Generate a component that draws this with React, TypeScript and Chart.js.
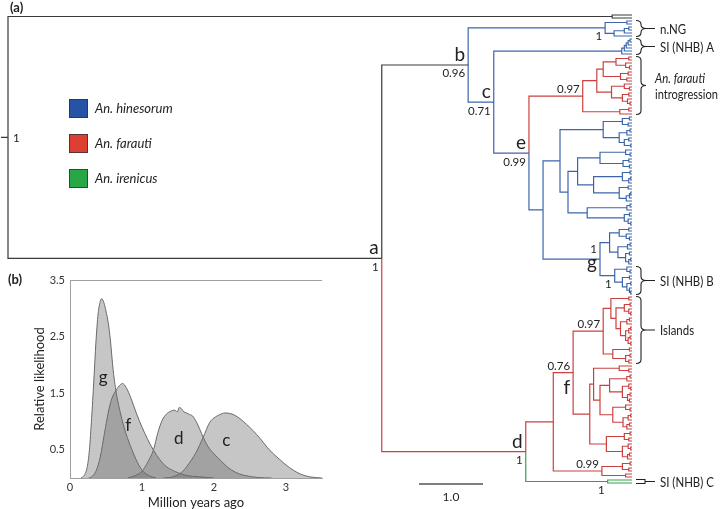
import React, { useEffect, useRef } from "react";
import { Chart, registerables } from "chart.js";
Chart.register(...registerables);

const FONT = 'Lato, "Open Sans", "DejaVu Sans", sans-serif';

// ---------------- Tree (node ages in Myr; "*" = tip; {name,colour}) ----------------
const OUTGROUP = "(*,*)0.31";
const NNG = "((*,*)0.08,(((*,*)0.05,*)0.12,*)0.28)0.42{nng,b}";
const SIA = "(((((*,*)0.03,*)0.06,*)0.09,*)0.12,*)0.16{sia}";
const R1A = "(((*,*)0.05,(*,(*,*)0.04)0.1)0.25,((*,*)0.06,(*,*)0.08)0.18)0.45";
const R1B = "((*,(*,*)0.04)0.12,((*,*)0.05,(*,(*,*)0.03)0.07)0.15)0.32";
const R2 = "((*,*)0.05,*)0.19";
const ET1 = "(((*,*)0.04,(*,*)0.06)0.15,(((*,*)0.03,*)0.08,((*,*)0.05,(*,*)0.02)0.12)0.2)0.45";
const A1 = "((*,(*,*)0.03)0.1,((*,*)0.05,(*,*)0.04)0.14)0.5";
const A2 = "(((*,*)0.03,((*,*)0.02,*)0.05)0.15,((*,*)0.06,(((*,*)0.02,*)0.04,*)0.09)0.2)0.6";
const ET2B = "(((*,*)0.03,*)0.08,((*,*)0.04,(*,(*,*)0.02)0.06)0.12)0.7";
const G1 = "(((*,*)0.05,(*,(*,*)0.04)0.09)0.2,(((*,*)0.03,*)0.07,((*,*)0.04,((*,*)0.02,*)0.05)0.1)0.22)0.35";
const SIB = "((*,(*,*)0.03)0.08,((*,*)0.04,((*,*)0.02,(*,(*,*)0.02)0.04)0.08)0.15)0.27{sib}";
const I1B = "(((*,*)0.03,(*,(*,*)0.02)0.05)0.12,(((*,*)0.04,*)0.08,(((*,*)0.02,*)0.05,((*,*)0.03,(*,*)0.02)0.06)0.1)0.18)0.25";
const I2 = "((*,*)0.04,((*,*)0.03,(*,*)0.05)0.1)0.3";
const F2A1 = "(((*,*)0.03,*)0.08,((*,(*,*)0.02)0.05,((*,*)0.03,(*,*)0.04)0.07)0.15)0.35";
const F2A2 = "((*,(*,*)0.03)0.1,(((*,*)0.02,*)0.06,((*,*)0.04,*)0.08)0.14)0.3";
const F2B = "(((*,*)0.03,(*,*)0.05)0.12,((*,(*,*)0.02)0.06,((*,*)0.04,*)0.07)0.15)0.4";
const R99 = "(((*,*)0.03,(*,*)0.05)0.15,(*,*)0.1)0.47{r99}";
const GREEN = "(*,*)0.38{grn,g}";

const R = `((${R1A},${R1B})0.55,${R2})0.77{r97,r}`;
const ET = `(${ET1},((${A1},${A2})0.85,${ET2B})1.0)1.125`;
const G = `(${G1},${SIB})0.5{g}`;
const E = `(${R},(${ET},${G})1.39)1.61{e}`;
const C = `(${SIA},${E})2.16{c,b}`;
const B = `(${NNG},${C})2.56{b}`;
const ISL = `(((*,*)0.05,${I1B})0.33,${I2})0.45{isl}`;
const F2 = `(((*,(*,*)0.05)0.2,(${F2A1},${F2A2})0.5)0.6,${F2B})0.66`;
const D = `(((${ISL},${F2})0.92{f},${R99})1.23,${GREEN})1.66{d,r}`;
const TREE = `(${OUTGROUP},(${B},${D})3.91{a})9.75{root,k}`;
const ROOT_STUB_AGE = 9.86;

const LINE_COLOURS: Record<string, string> = { k: "#3a3a3a", b: "#3d66aa", r: "#c9423f", g: "#35a24a" };

// node annotations: [node, text, kind, extra dy]
const NODE_NOTES: [string, string, string, number][] = [
  ["root", "1", "right", 0],
  ["a", "a", "letterAbove", 0], ["a", "1", "below", 0],
  ["b", "b", "letterAbove", 0], ["b", "0.96", "below", 0],
  ["c", "c", "letterAbove", 0], ["c", "0.71", "below", 0],
  ["e", "e", "letterAbove", 0], ["e", "0.99", "below", 0],
  ["d", "d", "letterAbove", 0], ["d", "1", "below", 0],
  ["f", "0.76", "above", 0], ["f", "f", "letterBelow", 6],
  ["g", "1", "above", -3], ["g", "g", "letterBelow", -6],
  ["nng", "1", "below", 0],
  ["r97", "0.97", "above", 0],
  ["isl", "0.97", "above", 0],
  ["sib", "1", "below", 0],
  ["r99", "0.99", "above", 0],
  ["grn", "1", "below", 0],
];

const BRACKET_NODES = ["nng", "sia", "r97", "sib", "isl", "grn"];
const BRACKET_TEXT = [["n.NG"], ["SI (NHB) A"], ["An. farauti", "introgression"], ["SI (NHB) B"], ["Islands"], ["SI (NHB) C"]];

const LEGEND_LABELS = ["An. hinesorum", "An. farauti", "An. irenicus"];
const LEGEND_COLOURS = ["#2753a6", "#dc4033", "#28a746"];

// ---------------- Inset (b): posterior densities of node ages ----------------
const G_X = [0.15, 0.2, 0.24, 0.27, 0.3, 0.33, 0.36, 0.39, 0.42, 0.44, 0.47, 0.5, 0.53, 0.56, 0.6, 0.65, 0.7, 0.75, 0.8, 0.86, 0.92, 1.0, 1.1, 1.2];
const G_Y = [0, 0.05, 0.2, 0.5, 1.05, 1.7, 2.4, 2.9, 3.12, 3.17, 3.1, 2.95, 2.75, 2.45, 1.9, 1.45, 1.15, 0.9, 0.7, 0.5, 0.32, 0.14, 0.04, 0];
const F_X = [0.26, 0.3, 0.36, 0.42, 0.48, 0.53, 0.58, 0.64, 0.7, 0.73, 0.78, 0.85, 0.92, 1.0, 1.08, 1.16, 1.25, 1.34, 1.45, 1.6, 1.8, 2.0];
const F_Y = [0, 0.02, 0.12, 0.37, 0.8, 1.15, 1.4, 1.55, 1.65, 1.67, 1.6, 1.4, 1.15, 0.9, 0.68, 0.49, 0.32, 0.2, 0.12, 0.05, 0.02, 0];
const D_X = [0.8, 0.9, 1.0, 1.08, 1.16, 1.22, 1.28, 1.34, 1.4, 1.45, 1.49, 1.52, 1.55, 1.58, 1.62, 1.66, 1.7, 1.76, 1.85, 1.92, 1.99, 2.1, 2.18, 2.3, 2.41, 2.6, 2.8];
const D_Y = [0, 0.04, 0.12, 0.28, 0.5, 0.8, 1.02, 1.13, 1.18, 1.2, 1.17, 1.25, 1.22, 1.17, 1.15, 1.12, 1.1, 0.98, 0.72, 0.55, 0.44, 0.3, 0.2, 0.1, 0.05, 0.01, 0];
const C_X = [1.3, 1.43, 1.55, 1.62, 1.75, 1.85, 1.94, 2.02, 2.08, 2.15, 2.25, 2.36, 2.45, 2.54, 2.64, 2.74, 2.83, 2.92, 3.0, 3.1, 3.2, 3.33, 3.5];
const C_Y = [0, 0.02, 0.1, 0.2, 0.45, 0.72, 0.98, 1.08, 1.12, 1.15, 1.13, 1.05, 0.95, 0.84, 0.7, 0.54, 0.42, 0.32, 0.23, 0.14, 0.07, 0.02, 0];
const CURVE_NAMES = ["g", "f", "d", "c"];
const CURVE_LABEL_X = [0.46, 0.81, 1.51, 2.17];
const CURVE_LABEL_Y = [1.77, 0.93, 0.7, 0.67];
const Y_TICKS_SHOWN = [0.5, 1.5, 2.5, 3.5];

type TNode = { children: TNode[]; age: number; name?: string; color?: string; col: string; y: number; lo: number; hi: number };

function parseTree(s: string): TNode {
  let i = 0;
  const num = () => {
    const m = /^[0-9.]+/.exec(s.slice(i));
    if (!m) return 0;
    i += m[0].length;
    return parseFloat(m[0]);
  };
  const node = (): TNode => {
    if (s[i] === "*") {
      i++;
      return { children: [], age: 0, col: "", y: 0, lo: 0, hi: 0 };
    }
    i++;
    const children: TNode[] = [];
    for (;;) {
      children.push(node());
      if (s[i] === ",") { i++; continue; }
      break;
    }
    i++;
    const n: TNode = { children, age: num(), col: "", y: 0, lo: 0, hi: 0 };
    if (s[i] === "{") {
      const j = s.indexOf("}", i);
      const [name, color] = s.slice(i + 1, j).split(",");
      if (name) n.name = name;
      if (color) n.color = color;
      i = j + 1;
    }
    return n;
  };
  return node();
}

function layoutTree(root: TNode) {
  let tip = 0;
  const named: Record<string, TNode> = {};
  const walk = (n: TNode, inherited: string) => {
    n.col = n.color || inherited;
    if (n.name) named[n.name] = n;
    if (!n.children.length) {
      n.y = tip; n.lo = tip; n.hi = tip; tip++;
      return;
    }
    n.children.forEach((c) => walk(c, n.col));
    n.y = (n.children[0].y + n.children[n.children.length - 1].y) / 2;
    n.lo = n.children[0].lo;
    n.hi = n.children[n.children.length - 1].hi;
  };
  walk(root, "k");
  const segs: Record<string, any[]> = { k: [], b: [], r: [], g: [] };
  segs.k.push({ x: ROOT_STUB_AGE, y: root.y }, { x: root.age, y: root.y }, { x: root.age, y: null });
  const edges = (n: TNode) => {
    n.children.forEach((c) => {
      segs[c.col].push({ x: n.age, y: n.y }, { x: n.age, y: c.y }, { x: c.age, y: c.y }, { x: c.age, y: null });
      edges(c);
    });
  };
  edges(root);
  return { named, segs };
}

export default function App() {
  const treeRef = useRef<HTMLCanvasElement>(null);
  const insetRef = useRef<HTMLCanvasElement>(null);

  useEffect(() => {
    document.body.style.margin = "0";
    const root = parseTree(TREE);
    const { named, segs } = layoutTree(root);

    const treeDecor = {
      id: "treeDecor",
      afterDatasetsDraw(chart: any) {
        const ctx = chart.ctx as CanvasRenderingContext2D;
        const X = (a: number) => chart.scales.x.getPixelForValue(a);
        const Y = (v: number) => chart.scales.y.getPixelForValue(v);
        ctx.save();
        ctx.fillStyle = "#222";
        ctx.font = `bold 13px ${FONT}`;
        ctx.textAlign = "left";
        ctx.textBaseline = "middle";
        ctx.fillText("(a)", 10, 8);

        for (const [nm, text, kind, dy] of NODE_NOTES) {
          const n = named[nm];
          if (!n) continue;
          const px = X(n.age), py = Y(n.y) + dy;
          const big = kind.startsWith("letter");
          ctx.font = big ? `19px ${FONT}` : `11.5px ${FONT}`;
          if (kind === "right") {
            ctx.textAlign = "left"; ctx.textBaseline = "middle";
            ctx.fillText(text, px + 5, py + 1);
          } else if (kind === "letterAbove") {
            ctx.textAlign = "right"; ctx.textBaseline = "alphabetic";
            ctx.fillText(text, px - 3, py - 4);
          } else if (kind === "above") {
            ctx.textAlign = "right"; ctx.textBaseline = "alphabetic";
            ctx.fillText(text, px - 3, py - 3);
          } else if (kind === "below") {
            ctx.textAlign = "right"; ctx.textBaseline = "top";
            ctx.fillText(text, px - 3, py + 3);
          } else {
            ctx.textAlign = "right"; ctx.textBaseline = "top";
            ctx.fillText(text, px - 3, py);
          }
        }

        // brackets
        const x0 = X(0) + 4;
        ctx.strokeStyle = "#222";
        ctx.lineWidth = 1.1;
        BRACKET_NODES.forEach((nm, k) => {
          const n = named[nm];
          const y1 = Y(n.lo - 0.5) + 1, y2 = Y(n.hi + 0.5) - 1, ym = (y1 + y2) / 2;
          const lines = BRACKET_TEXT[k];
          ctx.beginPath();
          if (y2 - y1 < 12) {
            ctx.moveTo(x0, y1); ctx.lineTo(x0 + 9, y1); ctx.lineTo(x0 + 9, y2); ctx.lineTo(x0, y2);
            ctx.moveTo(x0 + 9, ym); ctx.lineTo(x0 + 19, ym);
          } else {
            ctx.moveTo(x0, y1);
            ctx.quadraticCurveTo(x0 + 5, y1, x0 + 5, y1 + 4);
            ctx.lineTo(x0 + 5, ym - 4);
            ctx.quadraticCurveTo(x0 + 5, ym, x0 + 10, ym);
            ctx.quadraticCurveTo(x0 + 5, ym, x0 + 5, ym + 4);
            ctx.lineTo(x0 + 5, y2 - 4);
            ctx.quadraticCurveTo(x0 + 5, y2, x0, y2);
            if (lines.length === 1) { ctx.moveTo(x0 + 10, ym); ctx.lineTo(x0 + 19, ym); }
          }
          ctx.stroke();
          ctx.textAlign = "left"; ctx.textBaseline = "middle";
          if (lines.length === 1) {
            ctx.font = `13px ${FONT}`;
            const tx = x0 + 24;
            const w = Math.min(ctx.measureText(lines[0]).width * 0.88, 720 - tx - 5);
            ctx.fillText(lines[0], tx, ym + 1, w);
          } else {
            const tx = x0 + 19;
            ctx.font = `italic 13px ${FONT}`;
            ctx.fillText(lines[0], tx, ym - 7, Math.min(ctx.measureText(lines[0]).width * 0.88, 720 - tx - 2));
            ctx.font = `13px ${FONT}`;
            ctx.fillText(lines[1], tx, ym + 9, Math.min(ctx.measureText(lines[1]).width * 0.88, 720 - tx - 2));
          }
        });

        // legend
        LEGEND_LABELS.forEach((lab, k) => {
          const ty = 99 + k * 35;
          ctx.fillStyle = LEGEND_COLOURS[k];
          ctx.fillRect(69, ty, 19, 19);
          ctx.strokeStyle = "#333";
          ctx.lineWidth = 0.8;
          ctx.strokeRect(69.5, ty + 0.5, 18, 18);
          ctx.fillStyle = "#222";
          ctx.font = `italic 13px ${FONT}`;
          ctx.textAlign = "left"; ctx.textBaseline = "middle";
          ctx.fillText(lab, 95, ty + 10);
        });

        // scale bar (1.0 unit)
        const len = X(0) - X(1.0);
        ctx.strokeStyle = "#555";
        ctx.lineWidth = 1.6;
        ctx.beginPath();
        ctx.moveTo(419, 484); ctx.lineTo(419 + len, 484);
        ctx.stroke();
        ctx.fillStyle = "#222";
        ctx.font = `12px ${FONT}`;
        ctx.textAlign = "center"; ctx.textBaseline = "middle";
        ctx.fillText("1.0", 419 + len / 2, 497);
        ctx.restore();
      },
    };

    const order = ["k", "b", "r", "g"];
    const treeChart = new Chart(treeRef.current!, {
      type: "line",
      data: {
        datasets: order.map((k) => ({
          data: segs[k],
          borderColor: LINE_COLOURS[k],
          borderWidth: 1.2,
          pointRadius: 0,
          fill: false,
          spanGaps: false,
          tension: 0,
        })),
      } as any,
      options: {
        animation: false,
        responsive: false,
        events: [],
        layout: { padding: 0 },
        plugins: { legend: { display: false }, tooltip: { enabled: false } },
        scales: {
          x: { type: "linear", display: false, reverse: true, min: -1.375, max: 9.875 },
          y: { type: "linear", display: false, reverse: true, min: -5, max: -5 + 509 / 3 },
        },
      } as any,
      plugins: [treeDecor],
    });

    const insetDecor = {
      id: "insetDecor",
      afterDatasetsDraw(chart: any) {
        const ctx = chart.ctx as CanvasRenderingContext2D;
        const { left, right, top, bottom } = chart.chartArea;
        const xs = chart.scales.x, ys = chart.scales.y;
        ctx.save();
        ctx.strokeStyle = "#a0a0a0";
        ctx.lineWidth = 1;
        ctx.beginPath();
        ctx.moveTo(left, top + 0.5); ctx.lineTo(right, top + 0.5);
        ctx.stroke();
        ctx.fillStyle = "#222";
        ctx.font = `17px ${FONT}`;
        ctx.textAlign = "center"; ctx.textBaseline = "middle";
        CURVE_NAMES.forEach((nm, k) => {
          ctx.fillText(nm, xs.getPixelForValue(CURVE_LABEL_X[k]), ys.getPixelForValue(CURVE_LABEL_Y[k]));
        });
        ctx.font = `13px ${FONT}`;
        ctx.fillText("Million years ago", (left + right) / 2, 243);
        ctx.save();
        ctx.translate(40, (top + bottom) / 2);
        ctx.rotate(-Math.PI / 2);
        ctx.fillText("Relative likelihood", 0, 0);
        ctx.restore();
        ctx.font = `bold 13px ${FONT}`;
        ctx.textAlign = "left";
        ctx.fillText("(b)", 8, 20);
        ctx.restore();
      },
    };

    const curves = [[G_X, G_Y], [F_X, F_Y], [D_X, D_Y], [C_X, C_Y]];
    const insetChart = new Chart(insetRef.current!, {
      type: "line",
      data: {
        datasets: curves.map(([xs, ys], k) => ({
          label: CURVE_NAMES[k],
          data: xs.map((x, i) => ({ x, y: ys[i] })),
          borderColor: "#6a6a6a",
          borderWidth: 1,
          backgroundColor: "rgba(105,105,105,0.38)",
          fill: "origin",
          pointRadius: 0,
          cubicInterpolationMode: "monotone",
        })),
      } as any,
      options: {
        animation: false,
        responsive: false,
        events: [],
        layout: { padding: { top: 20, right: 48, left: 0, bottom: 0 } },
        plugins: { legend: { display: false }, tooltip: { enabled: false } },
        scales: {
          x: {
            type: "linear", min: 0, max: 3.5,
            afterFit: (s: any) => { s.height = 31; },
            grid: { display: false, drawTicks: false },
            border: { display: true, color: "#a0a0a0" },
            ticks: { stepSize: 1, includeBounds: false, color: "#333", font: { size: 11, family: FONT }, padding: 3, maxRotation: 0 },
          },
          y: {
            type: "linear", min: 0, max: 3.5,
            afterFit: (s: any) => { s.width = 70; },
            grid: { display: false, drawTicks: false },
            border: { display: true, color: "#a0a0a0" },
            ticks: {
              stepSize: 0.5, color: "#333", font: { size: 11, family: FONT }, padding: 5,
              callback: (v: any) => (Y_TICKS_SHOWN.includes(Number(v)) ? String(v) : ""),
            },
          },
        },
      } as any,
      plugins: [insetDecor],
    });

    return () => {
      treeChart.destroy();
      insetChart.destroy();
    };
  }, []);

  return (
    <div style={{ position: "relative", width: 720, height: 509, background: "#fff", overflow: "hidden" }}>
      <canvas ref={treeRef} width={720} height={509} style={{ position: "absolute", left: 0, top: 0 }} />
      <canvas ref={insetRef} width={370} height={249} style={{ position: "absolute", left: 0, top: 260 }} />
    </div>
  );
}
